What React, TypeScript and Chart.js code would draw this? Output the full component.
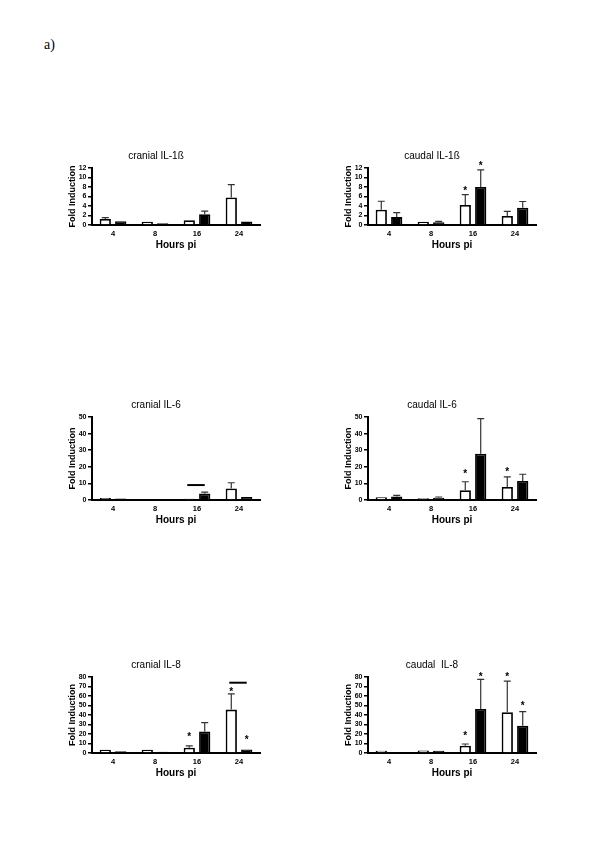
import React, { useEffect, useRef } from 'react';
import { Chart, registerables } from 'chart.js';
Chart.register(...registerables);

const categories = ['4', '8', '16', '24'];

// cranial IL-1ß
const cranialIL1bWhite = [1.25, 0.68, 1.0, 5.8];
const cranialIL1bWhiteSem = [0.32, 0.14, 0.14, 2.7];
const cranialIL1bBlack = [0.8, 0.38, 2.25, 0.72];
const cranialIL1bBlackSem = [0.05, 0.03, 0.68, 0.06];

// caudal IL-1ß
const caudalIL1bWhite = [3.2, 0.7, 4.2, 1.88];
const caudalIL1bWhiteSem = [1.8, 0.15, 2.2, 1.0];
const caudalIL1bBlack = [1.66, 0.57, 8.0, 3.65];
const caudalIL1bBlackSem = [0.94, 0.2, 3.6, 1.3];

// cranial IL-6
const cranialIL6White = [1.2, 0.6, 0.75, 7.0];
const cranialIL6WhiteSem = [0.3, 0.1, 0.15, 3.4];
const cranialIL6Black = [0.9, 0.3, 3.9, 1.8];
const cranialIL6BlackSem = [0.2, 0.05, 0.9, 0.3];

// caudal IL-6
const caudalIL6White = [1.6, 1.0, 5.9, 7.9];
const caudalIL6WhiteSem = [0.3, 0.2, 5.1, 6.0];
const caudalIL6Black = [2.1, 1.3, 27.9, 11.5];
const caudalIL6BlackSem = [0.7, 0.5, 21.1, 4.0];

// cranial IL-8
const cranialIL8White = [3.3, 3.3, 5.5, 45.7];
const cranialIL8WhiteSem = [0.5, 0.5, 1.9, 16.6];
const cranialIL8Black = [1.9, 1.2, 22.6, 3.8];
const cranialIL8BlackSem = [0.2, 0.1, 9.3, 0.5];

// caudal IL-8
const caudalIL8White = [2.4, 2.6, 7.6, 42.9];
const caudalIL8WhiteSem = [0.5, 0.5, 1.9, 32.8];
const caudalIL8Black = [0.7, 2.4, 46.4, 28.6];
const caudalIL8BlackSem = [0.1, 0.2, 31.2, 15.0];

// significance marks: [category index, dataset index (0 white, 1 black), value]
const caudalIL1bStars = [[2, 0, 7.6], [2, 1, 12.8]];
const caudalIL6Stars = [[2, 0, 16.6], [3, 0, 18]];
const cranialIL8Stars = [[2, 0, 18.5], [3, 0, 66], [3, 1, 15.5]];
const caudalIL8Stars = [[2, 0, 20.2], [2, 1, 82], [3, 0, 82], [3, 1, 51.4]];
// bracket lines: [category index, value]
const cranialIL6Lines = [[2, 9.0]];
const cranialIL8Lines = [[3, 74]];

const SANS = '"Liberation Sans", Arial, sans-serif';

type PanelProps = {
  title: string;
  white: number[];
  whiteSem: number[];
  black: number[];
  blackSem: number[];
  yMax: number;
  yStep: number;
  stars?: number[][];
  lines?: number[][];
  left: number;
  plotTop: number;
  plotH: number;
};

const PAD_TOP = 28;
const X_AXIS_H = 40;

function Panel(p: PanelProps) {
  const ref = useRef<HTMLCanvasElement | null>(null);
  const H = PAD_TOP + p.plotH + X_AXIS_H;
  useEffect(() => {
    const canvas = ref.current;
    if (!canvas) return;
    const sems = [p.whiteSem, p.blackSem];
    const vals = [p.white, p.black];
    const decor = {
      id: 'decor',
      afterDatasetsDraw(chart: any) {
        const ctx = chart.ctx;
        const ys = chart.scales.y;
        ctx.save();
        // error bars
        ctx.strokeStyle = '#333';
        ctx.lineWidth = 1.2;
        for (let d = 0; d < 2; d++) {
          const meta = chart.getDatasetMeta(d);
          meta.data.forEach((el: any, j: number) => {
            const topV = vals[d][j] + sems[d][j];
            const yt = ys.getPixelForValue(topV);
            const yb = el.y;
            if (yb - yt < 0.8) return;
            ctx.beginPath();
            ctx.moveTo(el.x, yb);
            ctx.lineTo(el.x, yt);
            ctx.moveTo(el.x - 3.5, yt);
            ctx.lineTo(el.x + 3.5, yt);
            ctx.stroke();
          });
        }
        // stars
        ctx.fillStyle = '#000';
        ctx.font = 'bold 10px ' + SANS;
        ctx.textAlign = 'center';
        ctx.textBaseline = 'middle';
        (p.stars || []).forEach((s) => {
          const el = chart.getDatasetMeta(s[1]).data[s[0]];
          ctx.fillText('*', el.x, ys.getPixelForValue(s[2]) + 2);
        });
        // lines
        ctx.strokeStyle = '#000';
        ctx.lineWidth = 2;
        (p.lines || []).forEach((l) => {
          const a = chart.getDatasetMeta(0).data[l[0]];
          const b = chart.getDatasetMeta(1).data[l[0]];
          const yy = ys.getPixelForValue(l[1]);
          ctx.beginPath();
          ctx.moveTo(a.x - 2, yy);
          ctx.lineTo(b.x, yy);
          ctx.stroke();
        });
        // texts
        const ca = chart.chartArea;
        ctx.fillStyle = '#000';
        ctx.font = '10px ' + SANS;
        ctx.textAlign = 'center';
        ctx.textBaseline = 'middle';
        ctx.fillText(p.title, (ca.left + ca.right) / 2 - 20, ca.top - 12);
        ctx.font = 'bold 10px ' + SANS;
        ctx.fillText('Hours pi', (ca.left + ca.right) / 2, ca.bottom + 20);
        ctx.save();
        ctx.translate(42.5, (ca.top + ca.bottom) / 2);
        ctx.rotate(-Math.PI / 2);
        ctx.font = 'bold 9px ' + SANS;
        ctx.fillText('Fold Induction', 0, 0);
        ctx.restore();
        ctx.restore();
      },
    };
    const chart = new Chart(canvas, {
      type: 'bar',
      data: {
        labels: categories,
        datasets: [
          {
            data: p.white,
            backgroundColor: '#ffffff',
            borderColor: '#000000',
            borderWidth: 1.8,
            categoryPercentage: 0.735,
            barPercentage: 0.73,
          },
          {
            data: p.black,
            backgroundColor: '#000000',
            borderColor: '#000000',
            borderWidth: 1.8,
            categoryPercentage: 0.735,
            barPercentage: 0.73,
          },
        ],
      },
      options: {
        responsive: false,
        animation: false,
        events: [],
        layout: { padding: { top: PAD_TOP, right: 10, left: 0, bottom: 0 } },
        plugins: { legend: { display: false }, tooltip: { enabled: false }, title: { display: false } },
        scales: {
          x: {
            grid: { display: false, drawTicks: false },
            border: { display: true, color: '#000', width: 2 },
            ticks: { color: '#000', font: { family: SANS, size: 7.5, weight: 'bold' }, padding: 4, maxRotation: 0, autoSkip: false },
            afterFit: (s: any) => { s.height = X_AXIS_H; },
          },
          y: {
            min: 0,
            max: p.yMax,
            grid: { drawOnChartArea: false, drawTicks: true, tickLength: 4, color: '#000', lineWidth: 1.5 },
            border: { display: true, color: '#000', width: 2 },
            ticks: { stepSize: p.yStep, color: '#000', font: { family: SANS, size: 7, weight: 'bold' }, padding: 1.5, autoSkip: false },
            afterFit: (s: any) => { s.width = 62; },
          },
        },
      },
      plugins: [decor],
    } as any);
    return () => chart.destroy();
  }, []);
  return (
    <canvas
      ref={ref}
      width={240}
      height={H}
      style={{ position: 'absolute', left: p.left, top: p.plotTop - PAD_TOP, width: 240, height: H }}
    />
  );
}

export default function App() {
  const L = 30;
  const R = 306;
  return (
    <div style={{ position: 'absolute', left: 0, top: 0, width: 600, height: 846, background: '#fff' }}>
      <div
        style={{
          position: 'absolute',
          left: 44,
          top: 37,
          fontFamily: '"Liberation Serif", "Times New Roman", serif',
          fontSize: 14,
          lineHeight: '16px',
        }}
      >
        a)
      </div>
      <Panel title="cranial IL-1ß" white={cranialIL1bWhite} whiteSem={cranialIL1bWhiteSem} black={cranialIL1bBlack} blackSem={cranialIL1bBlackSem} yMax={12} yStep={2} left={L} plotTop={168} plotH={57} />
      <Panel title="caudal IL-1ß" white={caudalIL1bWhite} whiteSem={caudalIL1bWhiteSem} black={caudalIL1bBlack} blackSem={caudalIL1bBlackSem} yMax={12} yStep={2} stars={caudalIL1bStars} left={R} plotTop={168} plotH={57} />
      <Panel title="cranial IL-6" white={cranialIL6White} whiteSem={cranialIL6WhiteSem} black={cranialIL6Black} blackSem={cranialIL6BlackSem} yMax={50} yStep={10} lines={cranialIL6Lines} left={L} plotTop={417} plotH={83} />
      <Panel title="caudal IL-6" white={caudalIL6White} whiteSem={caudalIL6WhiteSem} black={caudalIL6Black} blackSem={caudalIL6BlackSem} yMax={50} yStep={10} stars={caudalIL6Stars} left={R} plotTop={417} plotH={83} />
      <Panel title="cranial IL-8" white={cranialIL8White} whiteSem={cranialIL8WhiteSem} black={cranialIL8Black} blackSem={cranialIL8BlackSem} yMax={80} yStep={10} stars={cranialIL8Stars} lines={cranialIL8Lines} left={L} plotTop={677} plotH={76} />
      <Panel title="caudal  IL-8" white={caudalIL8White} whiteSem={caudalIL8WhiteSem} black={caudalIL8Black} blackSem={caudalIL8BlackSem} yMax={80} yStep={10} stars={caudalIL8Stars} left={R} plotTop={677} plotH={76} />
    </div>
  );
}
